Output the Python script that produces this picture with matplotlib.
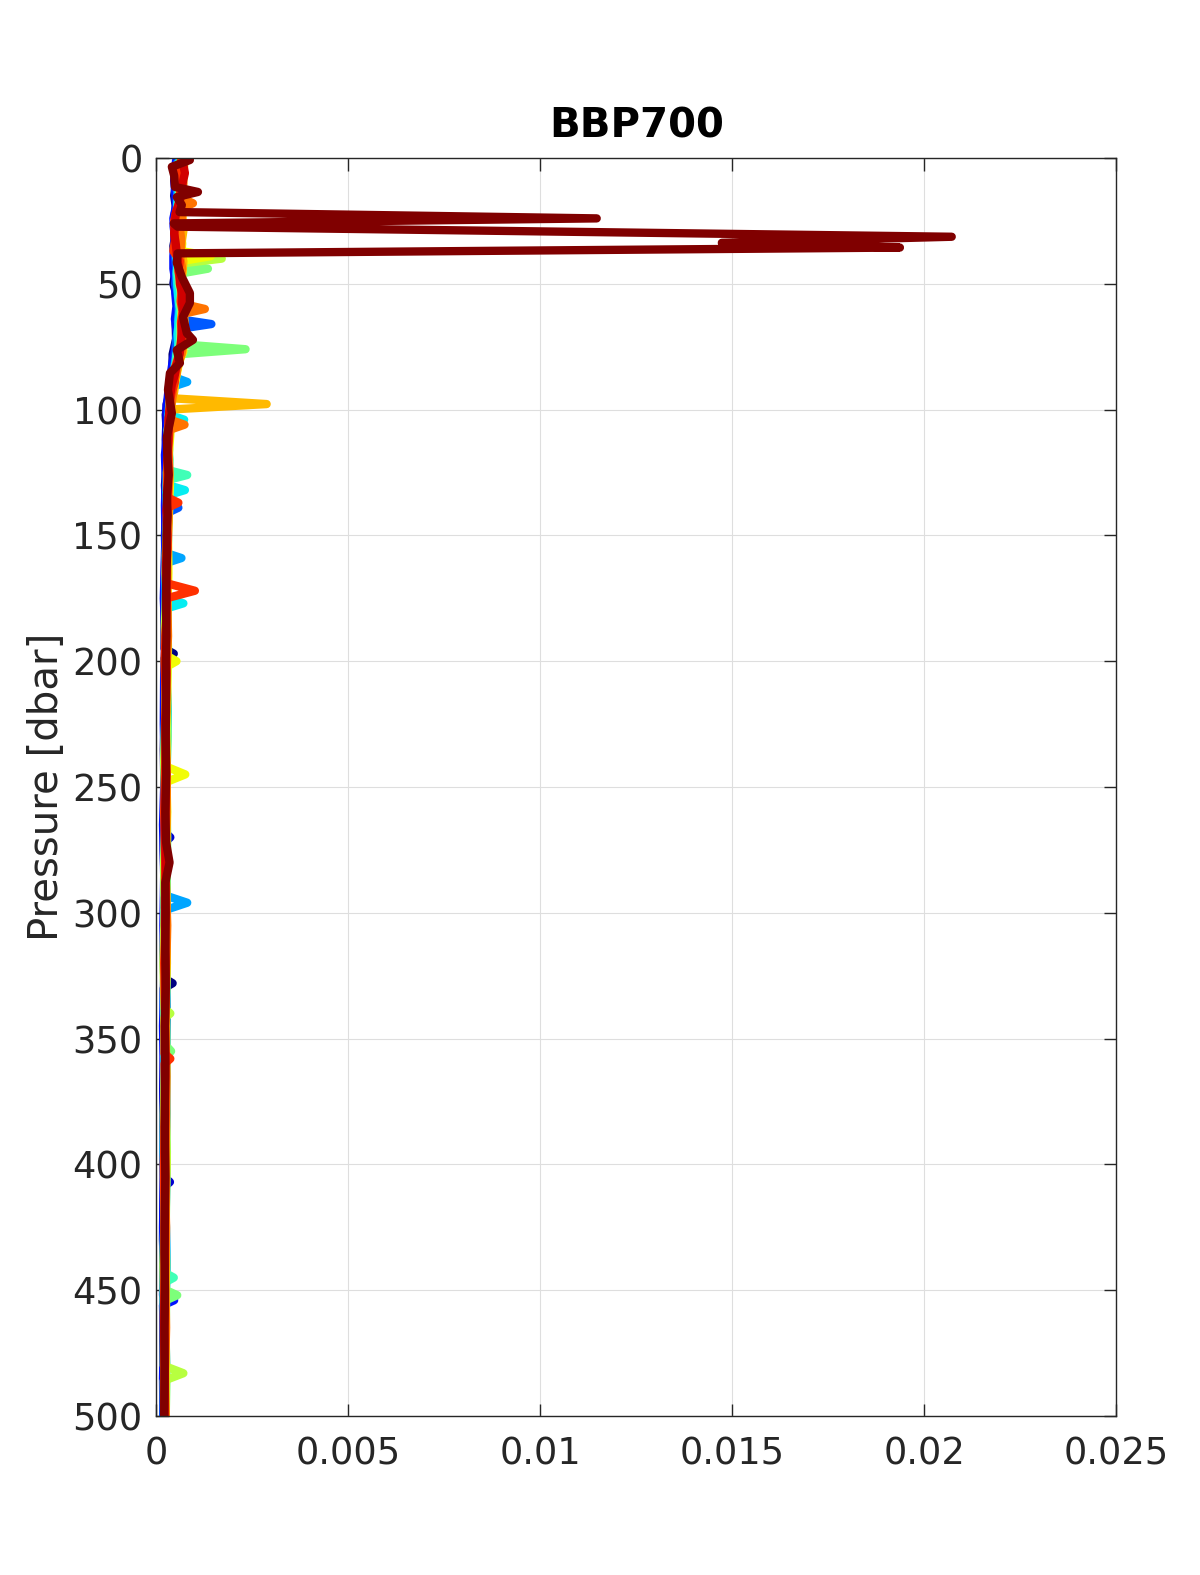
import numpy as np
import matplotlib
matplotlib.use("Agg")
import matplotlib.pyplot as plt

# BBP700 values listed in units of 1e-4 m^-1
BBP_UNIT = 1e-4

p00 = [2, 6, 10, 15, 20, 25, 30, 35, 40, 45, 50, 55, 60, 66, 72, 78, 84, 90, 96, 102, 110, 120, 130, 140, 150, 165, 180, 195, 197, 199, 215, 235, 255, 275, 295, 315, 326, 328, 330, 350, 370, 390, 410, 430, 450, 470, 490, 500]
b00 = [5.3, 4.8, 5.1, 4.6, 5.1, 4.7, 5.0, 4.4, 4.7, 4.9, 4.4, 5.3, 5.5, 5.0, 5.1, 4.2, 4.2, 3.4, 3.2, 2.4, 2.7, 2.7, 2.2, 2.5, 2.2, 2.4, 2.1, 2.1, 4.5, 2.1, 2.3, 1.9, 2.1, 1.9, 2.2, 1.9, 2.0, 4.2, 1.9, 2.1, 1.8, 2.0, 1.9, 1.7, 2.0, 1.8, 1.9, 1.8]

p01 = [3, 7, 12, 17, 22, 27, 32, 37, 42, 47, 52, 57, 62, 68, 74, 80, 86, 92, 98, 104, 112, 122, 132, 142, 152, 167, 182, 200, 220, 240, 260, 268, 270, 272, 290, 310, 330, 350, 370, 390, 405, 407, 409, 425, 445, 465, 485, 500]
b01 = [4.9, 5.3, 4.9, 5.3, 4.8, 4.5, 4.8, 4.9, 4.6, 4.8, 5.1, 5.5, 5.2, 5.6, 5.1, 4.3, 4.0, 3.7, 2.6, 2.6, 2.4, 2.7, 2.4, 2.6, 2.3, 2.1, 2.5, 2.5, 2.1, 2.3, 2.0, 2.2, 3.6, 2.2, 2.4, 2.0, 2.4, 2.1, 1.8, 2.2, 2.0, 3.5, 2.0, 2.2, 1.8, 2.0, 2.2, 1.9]

p02 = [1, 5, 9, 14, 19, 24, 29, 34, 39, 44, 49, 54, 59, 64, 70, 76, 82, 88, 94, 100, 108, 118, 128, 138, 148, 160, 175, 190, 205, 225, 245, 265, 285, 305, 325, 345, 365, 385, 405, 425, 445, 452, 454, 456, 470, 485, 500]
b02 = [5.1, 4.8, 4.6, 4.9, 5.1, 4.4, 4.6, 4.7, 4.4, 4.4, 4.9, 4.9, 5.2, 4.8, 5.3, 4.9, 4.1, 3.5, 3.0, 2.6, 2.8, 2.2, 2.4, 2.2, 2.3, 2.2, 1.9, 2.3, 2.0, 1.9, 2.1, 1.7, 2.0, 1.8, 2.0, 1.7, 1.9, 1.8, 1.9, 1.7, 1.8, 1.7, 4.6, 1.7, 1.9, 1.7, 1.8]

p03 = [2, 6, 10, 14, 18, 22, 26, 30, 34, 38, 42, 46, 50, 54, 58, 62, 64, 66, 68, 72, 78, 84, 90, 96, 102, 110, 120, 130, 137, 139, 141, 150, 165, 180, 200, 220, 240, 260, 280, 300, 320, 340, 360, 380, 400, 420, 440, 460, 480, 500]
b03 = [5.3, 5.7, 5.2, 5.4, 5.3, 5.3, 4.8, 5.2, 5.2, 4.8, 5.0, 5.4, 4.9, 5.7, 5.6, 5.8, 5.6, 14.3, 5.6, 5.1, 5.0, 4.6, 3.7, 3.5, 3.3, 3.1, 3.2, 2.7, 3.0, 5.7, 2.9, 3.0, 2.6, 2.8, 2.5, 2.9, 2.6, 2.7, 2.4, 2.7, 2.4, 2.7, 2.5, 2.3, 2.6, 2.4, 2.6, 2.3, 2.5, 2.3]

p04 = [1, 5, 9, 13, 17, 21, 25, 29, 33, 37, 41, 45, 49, 53, 57, 61, 65, 70, 75, 80, 85, 87, 89, 91, 95, 100, 108, 116, 124, 132, 140, 148, 157, 159, 161, 170, 185, 200, 220, 240, 260, 280, 293, 296, 299, 315, 335, 355, 375, 395, 415, 435, 455, 475, 500]
b04 = [5.8, 5.5, 6.0, 5.5, 5.6, 5.8, 5.1, 5.4, 5.4, 5.1, 5.7, 5.3, 5.5, 5.7, 6.1, 5.9, 5.6, 6.0, 5.7, 5.0, 4.5, 4.4, 8.0, 4.0, 3.6, 3.2, 3.2, 2.8, 2.8, 2.5, 2.8, 2.5, 2.5, 6.5, 2.5, 2.3, 2.6, 2.2, 2.3, 2.0, 2.3, 2.1, 2.1, 8.0, 2.1, 2.2, 1.9, 2.1, 2.0, 1.8, 2.1, 1.9, 1.8, 2.1, 1.9]

p05 = [2, 6, 10, 14, 18, 22, 26, 30, 34, 38, 42, 46, 50, 55, 60, 65, 70, 75, 80, 85, 90, 95, 100, 102, 104, 106, 112, 120, 128, 130, 132, 134, 142, 152, 162, 172, 175, 177, 179, 190, 205, 220, 240, 260, 280, 300, 320, 340, 360, 380, 400, 420, 440, 460, 480, 500]
b05 = [5.6, 5.8, 5.4, 5.8, 5.4, 5.4, 5.0, 5.5, 5.2, 5.0, 5.5, 5.2, 5.4, 5.6, 6.1, 5.8, 5.5, 5.7, 5.1, 4.6, 3.9, 3.6, 3.4, 3.1, 7.2, 3.1, 2.9, 3.3, 3.0, 3.0, 7.4, 3.0, 2.7, 3.0, 2.7, 2.6, 2.7, 7.0, 2.7, 2.9, 2.5, 2.9, 2.7, 2.4, 2.7, 2.6, 2.7, 2.4, 2.5, 2.6, 2.3, 2.4, 2.6, 2.3, 2.4, 2.3]

p06 = [1, 5, 9, 13, 17, 21, 25, 29, 33, 37, 41, 45, 49, 53, 58, 63, 68, 73, 78, 83, 88, 93, 98, 104, 110, 116, 122, 124, 126, 128, 134, 144, 155, 170, 185, 200, 220, 240, 260, 280, 300, 320, 340, 360, 380, 400, 420, 440, 443, 445, 447, 460, 480, 500]
b06 = [6.2, 5.7, 6.1, 5.9, 5.7, 6.2, 5.6, 5.8, 5.3, 5.8, 5.9, 5.4, 5.8, 6.2, 6.0, 6.5, 6.1, 6.1, 5.2, 5.2, 4.7, 3.6, 3.5, 3.2, 3.0, 3.3, 2.8, 2.9, 8.0, 2.9, 2.7, 2.8, 2.5, 2.6, 2.5, 2.2, 2.6, 2.3, 2.4, 2.1, 2.4, 2.3, 2.0, 2.3, 2.2, 2.0, 2.2, 2.0, 2.1, 4.5, 2.1, 2.3, 2.0, 2.1]

p07 = [2, 6, 10, 14, 18, 22, 26, 30, 34, 38, 42, 44, 46, 50, 54, 58, 62, 66, 70, 74, 76, 78, 82, 86, 90, 94, 98, 104, 112, 120, 130, 140, 150, 165, 180, 195, 210, 230, 250, 270, 290, 310, 330, 353, 355, 357, 375, 395, 415, 435, 450, 452, 454, 470, 485, 500]
b07 = [6.0, 6.3, 6.5, 5.9, 6.1, 6.1, 5.6, 6.0, 5.7, 6.1, 5.7, 13.4, 6.0, 5.8, 6.5, 6.2, 6.6, 6.2, 6.3, 6.1, 23.2, 6.0, 5.0, 4.9, 4.1, 4.0, 3.4, 3.5, 3.0, 3.4, 3.0, 3.3, 2.9, 2.9, 2.7, 3.0, 2.7, 2.9, 2.5, 2.8, 2.6, 2.7, 2.5, 2.6, 3.8, 2.6, 2.4, 2.7, 2.5, 2.3, 2.5, 5.4, 2.5, 2.4, 2.6, 2.4]

p08 = [1, 5, 9, 13, 17, 21, 25, 29, 33, 38, 40, 42, 47, 51, 55, 59, 63, 67, 71, 75, 79, 83, 87, 91, 95, 100, 108, 116, 125, 135, 145, 158, 172, 186, 200, 220, 240, 260, 280, 300, 320, 338, 340, 342, 360, 380, 400, 420, 440, 460, 480, 483, 486, 500]
b08 = [6.6, 6.8, 6.3, 6.4, 6.1, 6.6, 6.3, 6.0, 6.4, 6.0, 17.0, 6.1, 6.4, 6.5, 7.0, 6.9, 6.4, 6.7, 6.8, 6.3, 6.3, 5.3, 4.8, 4.1, 4.2, 3.8, 2.9, 3.2, 2.7, 2.9, 2.9, 2.4, 2.5, 2.2, 2.6, 2.3, 2.0, 2.4, 2.0, 2.1, 1.8, 2.1, 3.6, 2.0, 2.2, 1.9, 2.0, 2.1, 1.8, 2.0, 1.9, 7.0, 1.9, 2.0]

p09 = [2, 6, 10, 14, 18, 22, 26, 30, 34, 37, 39, 41, 45, 49, 53, 57, 61, 65, 69, 73, 77, 81, 85, 89, 93, 97, 102, 110, 120, 130, 140, 150, 165, 180, 198, 200, 202, 215, 230, 242, 245, 248, 260, 280, 300, 320, 340, 360, 380, 400, 420, 440, 460, 480, 500]
b09 = [6.6, 7.1, 6.9, 6.6, 7.1, 6.5, 6.7, 6.3, 6.7, 6.5, 14.2, 6.4, 6.8, 6.3, 7.3, 7.0, 7.2, 6.8, 7.3, 6.8, 7.0, 5.9, 5.4, 4.9, 4.5, 3.7, 3.9, 3.6, 3.1, 3.5, 3.2, 3.0, 3.1, 2.8, 2.9, 5.2, 2.9, 2.8, 2.5, 2.7, 7.5, 2.6, 2.8, 2.4, 2.6, 2.7, 2.3, 2.5, 2.4, 2.6, 2.3, 2.5, 2.2, 2.4, 2.3]

p10 = [1, 5, 9, 13, 17, 21, 25, 29, 33, 37, 41, 45, 49, 53, 57, 61, 65, 69, 73, 77, 81, 85, 89, 93, 95.5, 97.8, 100, 105, 112, 120, 130, 140, 150, 165, 180, 195, 210, 230, 250, 270, 290, 310, 330, 350, 370, 390, 410, 430, 450, 470, 490, 500]
b10 = [7.3, 7.1, 6.8, 7.1, 7.3, 6.8, 6.8, 7.0, 6.6, 6.4, 7.0, 6.8, 6.5, 7.4, 7.6, 7.1, 7.3, 7.5, 7.0, 6.8, 5.9, 5.3, 4.8, 4.6, 4.1, 28.7, 3.3, 3.3, 3.3, 3.0, 2.7, 3.2, 2.8, 2.4, 2.8, 2.4, 2.6, 2.3, 2.6, 2.4, 2.2, 2.5, 2.2, 2.4, 2.3, 2.1, 2.4, 2.2, 2.0, 2.3, 2.1, 2.2]

p11 = [2, 6, 10, 14, 16, 18, 20, 24, 28, 32, 36, 40, 44, 48, 52, 56, 58, 60, 62, 66, 70, 74, 78, 82, 86, 90, 94, 98, 102, 104, 106, 108, 115, 125, 135, 145, 160, 175, 190, 205, 225, 245, 265, 285, 305, 325, 345, 365, 385, 405, 425, 445, 465, 485, 500]
b11 = [6.7, 6.5, 7.0, 6.5, 6.7, 9.5, 6.4, 6.6, 6.1, 6.4, 6.3, 6.2, 6.7, 6.3, 7.0, 6.7, 6.9, 12.6, 6.7, 7.2, 6.6, 6.9, 6.5, 5.5, 5.2, 4.3, 4.3, 3.9, 3.4, 3.5, 7.3, 3.5, 3.0, 3.4, 3.1, 3.1, 2.8, 2.8, 3.0, 2.6, 2.4, 2.7, 2.6, 2.4, 2.8, 2.5, 2.3, 2.6, 2.5, 2.2, 2.5, 2.3, 2.5, 2.2, 2.4]

p12 = [1, 5, 9, 13, 17, 21, 25, 29, 33, 37, 41, 45, 49, 53, 57, 61, 65, 69, 73, 77, 81, 85, 89, 93, 97, 101, 108, 116, 124, 132, 135, 137, 139, 146, 155, 164, 169, 172, 175, 185, 200, 220, 240, 260, 280, 300, 320, 340, 356, 358, 360, 380, 400, 420, 440, 460, 480, 500]
b12 = [6.4, 6.0, 6.5, 6.2, 6.0, 5.2, 4.6, 4.7, 4.8, 4.4, 6.1, 5.7, 6.2, 6.5, 6.3, 6.8, 6.4, 6.5, 6.5, 6.1, 5.3, 4.5, 4.8, 4.0, 3.4, 3.7, 3.1, 3.0, 3.1, 2.7, 3.0, 5.7, 2.9, 2.7, 2.9, 2.5, 2.6, 10.0, 2.6, 2.5, 2.1, 2.5, 2.3, 2.0, 2.3, 2.4, 2.0, 2.2, 2.1, 3.6, 2.1, 2.3, 1.9, 2.1, 2.2, 1.9, 2.1, 2.0]

p13 = [2, 6, 10, 14, 18, 22, 26, 30, 34, 38, 42, 46, 50, 54, 58, 62, 66, 70, 74, 78, 82, 86, 90, 94, 98, 104, 112, 120, 130, 140, 150, 162, 175, 190, 205, 225, 245, 265, 285, 305, 325, 345, 365, 385, 405, 425, 445, 465, 485, 500]
b13 = [6.9, 7.4, 6.8, 6.6, 5.9, 5.0, 4.8, 4.6, 5.0, 5.3, 5.6, 6.0, 6.1, 6.7, 6.7, 7.0, 6.6, 6.6, 6.3, 6.0, 5.3, 4.8, 4.0, 3.6, 3.5, 3.1, 3.1, 2.8, 3.0, 2.6, 2.8, 2.5, 2.7, 2.4, 2.6, 2.3, 2.5, 2.3, 2.4, 2.2, 2.4, 2.2, 2.3, 2.1, 2.3, 2.1, 2.2, 2.0, 2.2, 2.1]

p14 = [0.8, 3.5, 7, 11.5, 13.5, 15.5, 18.7, 21.5, 24.0, 26.0, 27.3, 31.3, 33.7, 35.6, 37.9, 41.7, 47.3, 53.7, 57.6, 63.2, 69.6, 72.3, 76.3, 81.5, 85.5, 92.2, 101.4, 110.9, 118, 126, 134, 142, 150, 160, 170, 180, 190, 200, 215, 230, 245, 260, 272, 280, 288, 300, 315, 330, 345, 360, 375, 390, 405, 420, 435, 450, 465, 480, 500]
b14 = [8.7, 4.0, 4.6, 4.8, 10.8, 5.3, 6.6, 6.0, 114.7, 4.5, 5.5, 207.2, 147.3, 193.7, 5.5, 5.3, 6.6, 8.7, 8.7, 6.9, 7.9, 9.5, 5.3, 6.1, 3.5, 3.0, 4.0, 2.7, 2.8, 3.2, 2.7, 2.9, 2.6, 2.7, 2.5, 2.5, 2.6, 2.4, 2.5, 2.4, 2.5, 2.3, 2.5, 3.4, 2.3, 2.4, 2.3, 2.4, 2.2, 2.3, 2.2, 2.2, 2.3, 2.2, 2.1, 2.2, 2.1, 2.1, 2.0]

pressures = [p00, p01, p02, p03, p04, p05, p06, p07, p08, p09, p10, p11, p12, p13, p14]
bbp = [b00, b01, b02, b03, b04, b05, b06, b07, b08, b09, b10, b11, b12, b13, b14]

x_ticks = [0, 0.005, 0.01, 0.015, 0.02, 0.025]
x_ticklabels = ["0", "0.005", "0.01", "0.015", "0.02", "0.025"]
y_ticks = [0, 50, 100, 150, 200, 250, 300, 350, 400, 450, 500]
y_ticklabels = ["0", "50", "100", "150", "200", "250", "300", "350", "400", "450", "500"]

plt.rcParams['font.family'] = ['DejaVu Sans']
fig = plt.figure(figsize=(12, 15.75), dpi=100)
ax = fig.add_axes([156.5 / 1200, 1 - 1416 / 1575, (1116 - 156.5) / 1200, (1416 - 158) / 1575])

n = len(pressures)
colors = plt.cm.jet(np.linspace(0, 1, n))
for P, B, c in zip(pressures, bbp, colors):
    ax.plot(np.array(B) * BBP_UNIT, P, color=c, lw=6,
            solid_joinstyle='round', solid_capstyle='round')

ax.set_xlim(0, 0.025)
ax.set_ylim(500, 0)
ax.set_xticks(x_ticks)
ax.set_xticklabels(x_ticklabels)
ax.set_yticks(y_ticks)
ax.set_yticklabels(y_ticklabels)

dark = '#262626'
ax.tick_params(direction='in', top=True, right=True, length=9, width=1.0,
               labelsize=26.5, colors=dark)
ax.tick_params(axis='x', pad=14)
ax.tick_params(axis='y', pad=10)
for s in ax.spines.values():
    s.set_color(dark)
    s.set_linewidth(1.0)
    s.set_zorder(3)
ax.grid(True, color='#dedede', lw=0.8)
ax.set_axisbelow(True)

ax.set_title('BBP700', fontsize=29, fontweight='bold', color='black', pad=15)
ax.set_ylabel('Pressure [dbar]', fontsize=29, color=dark)
ax.yaxis.set_label_coords((67 - 156.5) / (1116 - 156.5), 0.5)

fig.savefig('out.png', dpi=100, facecolor='white')
